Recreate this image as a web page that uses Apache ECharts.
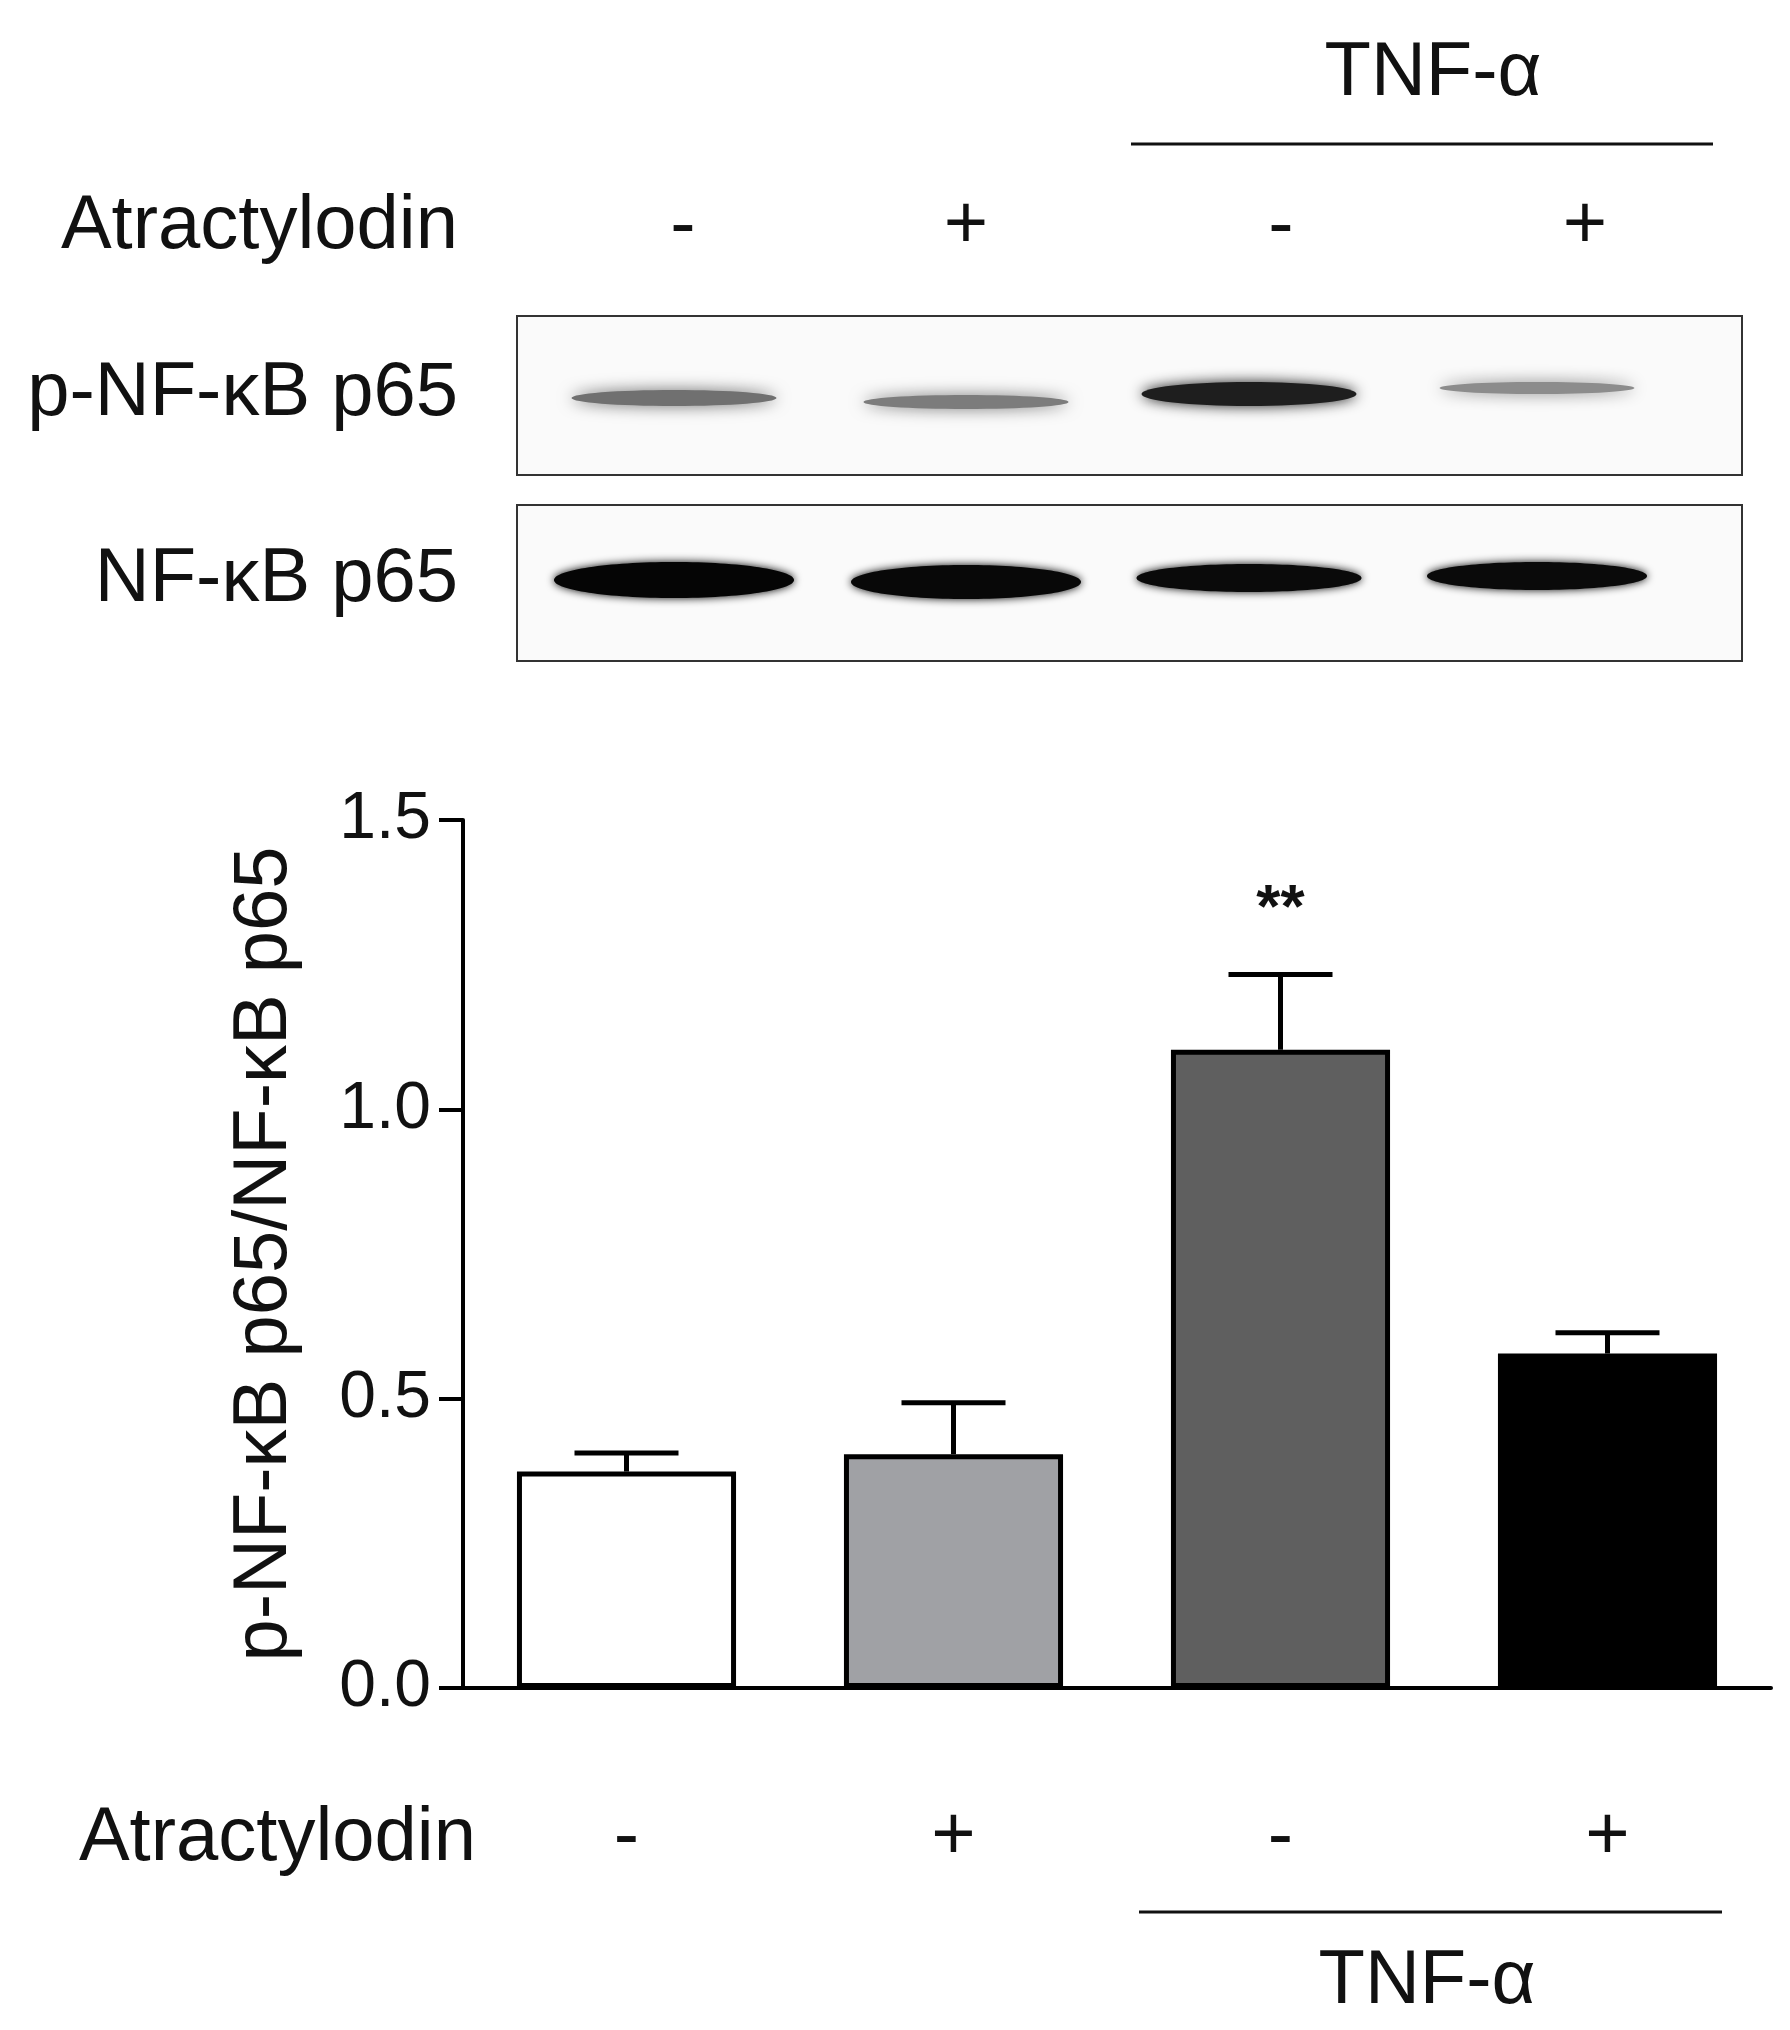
<!DOCTYPE html>
<html><head><meta charset="utf-8">
<script src="https://cdn.jsdelivr.net/npm/echarts@6/dist/echarts.min.js"></script>
<style>html,body{margin:0;padding:0;background:#fff}#c{width:1790px;height:2030px}</style>
</head><body><div id="c"></div>
<script>
const categories = ['-', '+', '-', '+'];
const values = [0.374, 0.404, 1.103, 0.578];
const errorTops = [0.406, 0.493, 1.233, 0.614];
const barColors = ['#ffffff', '#a0a1a5', '#5f5f5f', '#000000'];
const yTicks = [0, 0.5, 1.0, 1.5];
const F = 'Liberation Sans, Arial, sans-serif';
const FS = 76;
const chart = echarts.init(document.getElementById('c'));

function band(cx, cy, w, h, color, blur) {
  return {type:'ellipse', shape:{cx:cx, cy:cy, rx:w/2, ry:h/2},
    style:{fill:color, shadowBlur:blur, shadowColor:color}};
}
const graphics = [
  {type:'text', style:{text:'TNF-α', x:1433, y:74, align:'center', verticalAlign:'middle', font:FS+'px '+F, fill:'#111'}},
  {type:'line', shape:{x1:1131, y1:144, x2:1713, y2:144}, style:{stroke:'#111', lineWidth:3}},
  {type:'text', style:{text:'Atractylodin', x:458, y:227, align:'right', verticalAlign:'middle', font:FS+'px '+F, fill:'#111'}},
  ...[683,966,1281,1585].map((x,i)=>({type:'text', style:{text:categories[i], x:x, y:227, align:'center', verticalAlign:'middle', font:FS+'px '+F, fill:'#111'}})),
  {type:'text', style:{text:'p-NF-κB p65', x:458, y:394, align:'right', verticalAlign:'middle', font:FS+'px '+F, fill:'#111'}},
  {type:'text', style:{text:'NF-κB p65', x:458, y:580, align:'right', verticalAlign:'middle', font:FS+'px '+F, fill:'#111'}},
  {type:'rect', shape:{x:517, y:316, width:1225, height:159}, style:{fill:'#fafafa', stroke:'#333', lineWidth:2}},
  {type:'rect', shape:{x:517, y:505, width:1225, height:156}, style:{fill:'#fafafa', stroke:'#333', lineWidth:2}},
  band(674, 398, 205, 16, '#707070', 16),
  band(966, 402, 205, 14, '#7c7c7c', 16),
  band(1249, 394, 215, 24, '#1e1e1e', 14),
  band(1537, 388, 195, 12, '#8c8c8c', 16),
  band(674, 580, 240, 36, '#050505', 8),
  band(966, 582, 230, 34, '#080808', 8),
  band(1249, 578, 225, 28, '#0a0a0a', 8),
  band(1537, 576, 220, 28, '#0a0a0a', 8),
  {type:'text', style:{text:'Atractylodin', x:476, y:1839, align:'right', verticalAlign:'middle', font:FS+'px '+F, fill:'#111'}},
  {type:'line', shape:{x1:1139, y1:1912, x2:1722, y2:1912}, style:{stroke:'#111', lineWidth:3}},
  {type:'text', style:{text:'TNF-α', x:1427, y:1982, align:'center', verticalAlign:'middle', font:FS+'px '+F, fill:'#111'}}
];

chart.setOption({
  animation:false,
  grid:{left:463, right:19, top:820, bottom:342},
  xAxis:{type:'category', data:categories, boundaryGap:true,
    axisLine:{lineStyle:{color:'#000', width:4}},
    axisTick:{alignWithLabel:true, length:27, lineStyle:{color:'#000', width:4}},
    axisLabel:{fontSize:FS, fontFamily:F, color:'#111', margin:112}},
  yAxis:{type:'value', min:0, max:1.5, interval:0.5,
    name:'p-NF-κB p65/NF-κB p65', nameLocation:'middle', nameGap:160, nameRotate:90,
    nameTextStyle:{fontSize:FS, fontFamily:F, color:'#111'},
    axisLine:{show:true, lineStyle:{color:'#000', width:4}},
    axisTick:{show:true, length:24, lineStyle:{color:'#000', width:4}},
    splitLine:{show:false},
    axisLabel:{fontSize:66, fontFamily:F, color:'#111', margin:32, formatter:v=>v.toFixed(1)}},
  series:[
    {type:'bar', barWidth:'67%', data:values.map((v,i)=>({value:v, itemStyle:{color:barColors[i]}})),
      itemStyle:{borderColor:'#000', borderWidth:5}, z:3},
    {type:'custom', z:2, data:values.map((v,i)=>[i, v, errorTops[i]]),
      renderItem:(params, api)=>{
        const b = api.coord([api.value(0), api.value(1)]);
        const t = api.coord([api.value(0), api.value(2)]);
        const cap = 52;
        const children = [
          {type:'line', shape:{x1:b[0], y1:b[1], x2:t[0], y2:t[1]}, style:{stroke:'#000', lineWidth:5}},
          {type:'line', shape:{x1:t[0]-cap, y1:t[1], x2:t[0]+cap, y2:t[1]}, style:{stroke:'#000', lineWidth:5}}
        ];
        if (params.dataIndex === 2) children.push({type:'text', style:{text:'**', x:t[0], y:t[1]-65, align:'center', verticalAlign:'middle', font:'bold 62px '+F, fill:'#111'}});
        return {type:'group', children};
      }}
  ],
  graphic:graphics
});
</script></body></html>
